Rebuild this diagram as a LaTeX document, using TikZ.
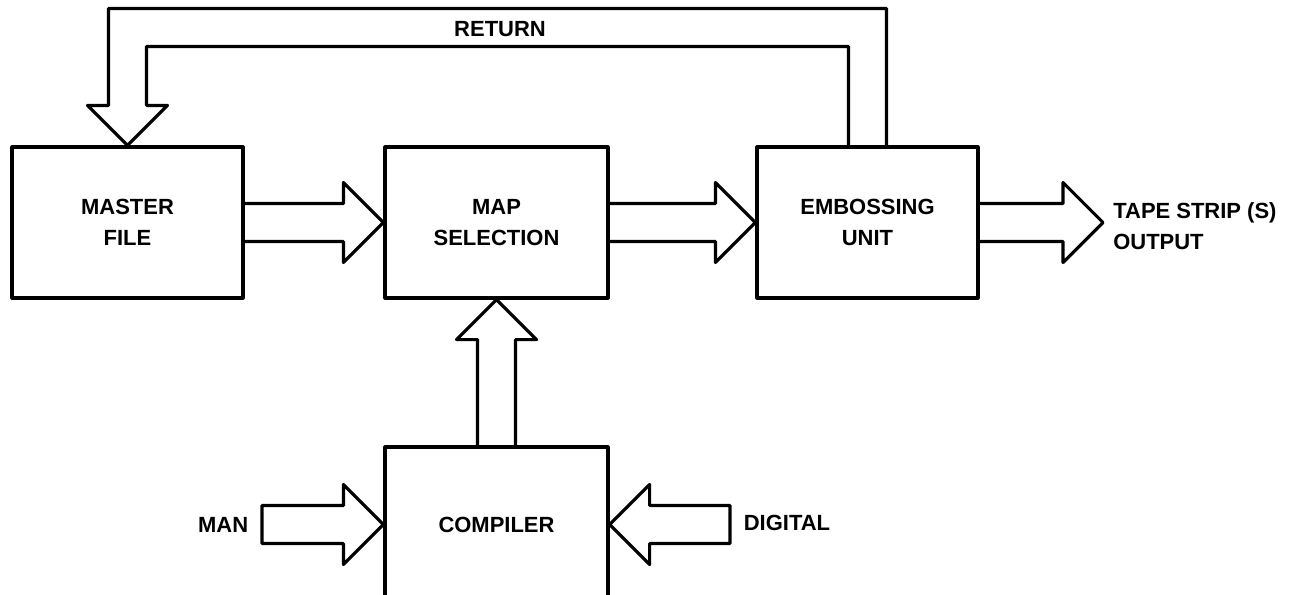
\documentclass[tikz,border=0pt]{standalone}
\usepackage{fontspec}
\setsansfont{Liberation Sans}
\usetikzlibrary{calc}

\begin{document}
\begin{tikzpicture}[
  line cap=round,
  line join=round,
  font=\sffamily\bfseries\fontsize{12.5}{17.5}\selectfont,
  block/.style={draw=black, line width=1.8pt, minimum width=4.46cm, minimum height=3.02cm, inner sep=0pt, align=center},
  fat/.style={draw=black, line width=1.8pt},
  tag/.style={inner sep=0.27cm, align=left}
]

\def\sh{0.38cm}
\def\hw{0.8cm}
\def\hl{0.8cm}
\def\rety{11.33cm}

\useasboundingbox (0,0) rectangle (25.86,11.88);
\clip (0,0) rectangle (25.86,11.88);

% Processing units.
\node[block, minimum width=4.62cm] (master) at (2.55,7.43) {MASTER\\FILE};
\node[block] (mapsel) at (9.93,7.43) {MAP\\SELECTION};
\node[block, minimum width=4.42cm] (emboss) at (17.35,7.43) {EMBOSSING\\UNIT};
\node[block, minimum height=3.10cm] (compiler) at (9.93,1.39) {COMPILER};

% Inputs and output.
\node[tag, anchor=east] (man) at (5.24,1.39) {MAN};
\node[tag, anchor=west] (digital) at (14.60,1.43) {DIGITAL};
\coordinate (outTip) at (22.06,7.43);
\node[anchor=west, align=left, inner sep=0pt] (tape) at (22.26,7.36) {TAPE STRIP (S)\\OUTPUT};
\node (retLabel) at (10.00,11.30) {RETURN};

% Wide flow arrows pointing right, open at the box they leave.
\foreach \a/\b in {master.east/mapsel.west, mapsel.east/emboss.west, emboss.east/outTip}{
  \draw[fat] let \p1=(\a), \p2=(\b) in
    (\x1,\y2+\sh) -- (\x2-\hl,\y2+\sh) -- (\x2-\hl,\y2+\hw) -- (\x2,\y2)
    -- (\x2-\hl,\y2-\hw) -- (\x2-\hl,\y2-\sh) -- (\x1,\y2-\sh);
}

% Manual input, closed tail.
\draw[fat] let \p1=(man.east), \p2=(compiler.west) in
  (\x1,\y2+\sh) -- (\x2-\hl,\y2+\sh) -- (\x2-\hl,\y2+\hw) -- (\x2,\y2)
  -- (\x2-\hl,\y2-\hw) -- (\x2-\hl,\y2-\sh) -- (\x1,\y2-\sh) -- cycle;

% Digital input, pointing left.
\draw[fat] let \p1=(digital.west), \p2=(compiler.east) in
  (\x1,\y2+\sh) -- (\x2+\hl,\y2+\sh) -- (\x2+\hl,\y2+\hw) -- (\x2,\y2)
  -- (\x2+\hl,\y2-\hw) -- (\x2+\hl,\y2-\sh) -- (\x1,\y2-\sh) -- cycle;

% Compiler up to map selection.
\draw[fat] let \p1=(compiler.north), \p2=(mapsel.south) in
  (\x2-\sh,\y1) -- (\x2-\sh,\y2-\hl) -- (\x2-\hw,\y2-\hl) -- (\x2,\y2)
  -- (\x2+\hw,\y2-\hl) -- (\x2+\sh,\y2-\hl) -- (\x2+\sh,\y1);

% Return loop back to the master file.
\draw[fat] let \p1=(emboss.north), \p2=(master.north) in
  (\x1+\sh,\y1) -- (\x1+\sh,\rety+\sh) -- (\x2-\sh,\rety+\sh) -- (\x2-\sh,\y2+\hl)
  -- (\x2-\hw,\y2+\hl) -- (\x2,\y2) -- (\x2+\hw,\y2+\hl) -- (\x2+\sh,\y2+\hl)
  -- (\x2+\sh,\rety-\sh) -- (\x1-\sh,\rety-\sh) -- (\x1-\sh,\y1);

\end{tikzpicture}
\end{document}
